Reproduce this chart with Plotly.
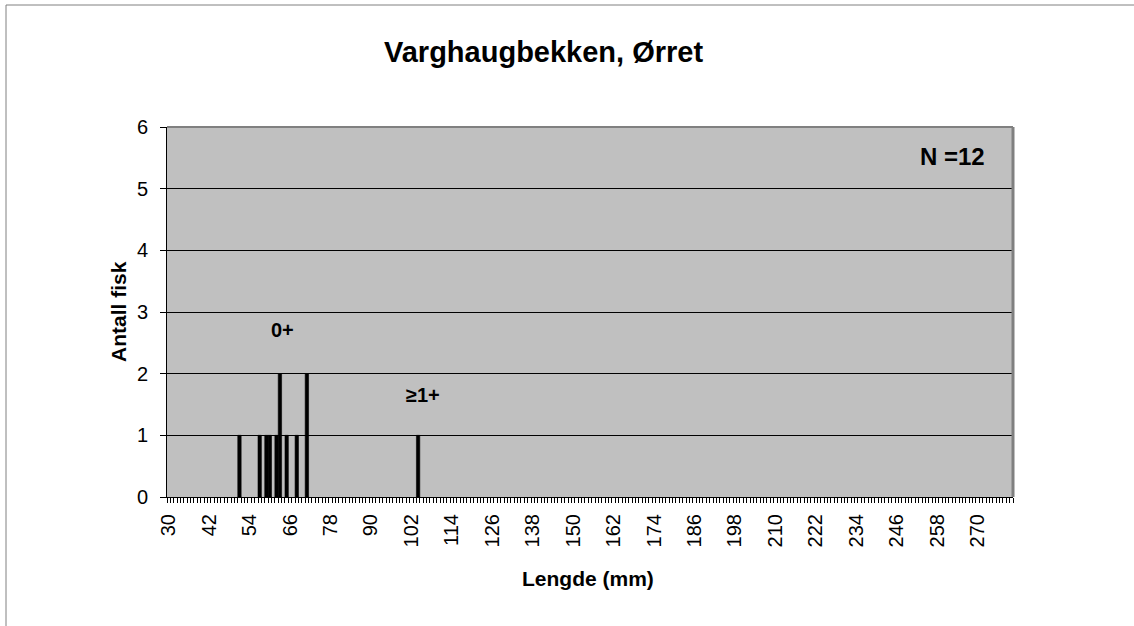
import plotly.graph_objects as go

# Data
lengths = [51, 57, 59, 60, 62, 63, 65, 68, 71, 104]
counts = [1, 1, 1, 1, 1, 2, 1, 1, 2, 1]
x_min, x_max = 30, 280
tick_labels = list(range(30, 271, 12))
y_ticks = [0, 1, 2, 3, 4, 5, 6]

title_text = "Varghaugbekken, Ørret"
x_title = "Lengde (mm)"
y_title = "Antall fisk"

W, H = 1134, 626
L, R, T, B = 167, 1013, 127, 497

FONT = "Arial, Liberation Sans, sans-serif"

fig = go.Figure()
fig.add_trace(go.Bar(x=lengths, y=counts, marker=dict(color="black", line=dict(width=0.6, color="black")),
                     width=1.0, showlegend=False))

def px_x(p):
    return (p - L) / (R - L)

def px_y(p):
    return (B - p) / (B - T)

fig.update_layout(
    width=W, height=H,
    margin=dict(l=L, r=W - R, t=T, b=H - B, pad=0),
    paper_bgcolor="white",
    plot_bgcolor="#C0C0C0",
    font=dict(family=FONT, color="black"),
    xaxis=dict(
        range=[x_min - 0.5, x_max + 0.5],
        tickmode="array", tickvals=tick_labels, ticktext=[str(v) for v in tick_labels],
        tickangle=-90, tickfont=dict(size=20, family=FONT),
        ticks="", ticklabelstandoff=8, showgrid=False, zeroline=False,
        showline=True, linecolor="black", linewidth=1,
        minor=dict(tickmode="linear", tick0=x_min - 0.5, dtick=1, ticks="outside",
                   ticklen=5, tickcolor="black", tickwidth=1, showgrid=False),
        fixedrange=True,
    ),
    yaxis=dict(
        range=[0, 6], tickmode="array", tickvals=y_ticks,
        tickfont=dict(size=20, family=FONT),
        ticks="outside", ticklen=6, tickcolor="black", ticklabelstandoff=8,
        showgrid=True, gridcolor="black", gridwidth=1,
        zeroline=False, showline=True, linecolor="black", linewidth=1,
        fixedrange=True,
    ),
)

# plot area border (top / right in gray)
fig.add_shape(type="line", xref="paper", yref="paper", x0=0, x1=1, y0=1, y1=1,
              line=dict(color="#808080", width=2))
fig.add_shape(type="line", xref="paper", yref="paper", x0=1, x1=1, y0=0, y1=1,
              line=dict(color="#808080", width=3))

# outer chart border
fig.add_shape(type="line", xref="paper", yref="paper", x0=px_x(6), x1=px_x(W + 5),
              y0=px_y(5), y1=px_y(5), line=dict(color="#808080", width=1))
fig.add_shape(type="line", xref="paper", yref="paper", x0=px_x(6), x1=px_x(6),
              y0=px_y(5), y1=px_y(H + 5), line=dict(color="#808080", width=1))

ann = [
    dict(text="<b>" + title_text + "</b>", x=px_x(543), y=px_y(52), size=29),
    dict(text="<b>" + x_title + "</b>", x=px_x(588), y=px_y(578), size=21),
    dict(text="<b>0+</b>", x=px_x(282), y=px_y(330), size=20),
    dict(text="<b>≥1+</b>", x=px_x(423), y=px_y(395), size=20),
    dict(text="<b>N =12</b>", x=px_x(952), y=px_y(157), size=24),
]
for a in ann:
    fig.add_annotation(text=a["text"], x=a["x"], y=a["y"], xref="paper", yref="paper",
                       showarrow=False, xanchor="center", yanchor="middle",
                       font=dict(size=a["size"], family=FONT, color="black"))
fig.add_annotation(text="<b>" + y_title + "</b>", x=px_x(118), y=px_y(312),
                   xref="paper", yref="paper", showarrow=False, textangle=-90,
                   xanchor="center", yanchor="middle",
                   font=dict(size=21, family=FONT, color="black"))

fig.write_html("out.html", config={"displayModeBar": False},
               post_script="document.body.style.margin='0';")
